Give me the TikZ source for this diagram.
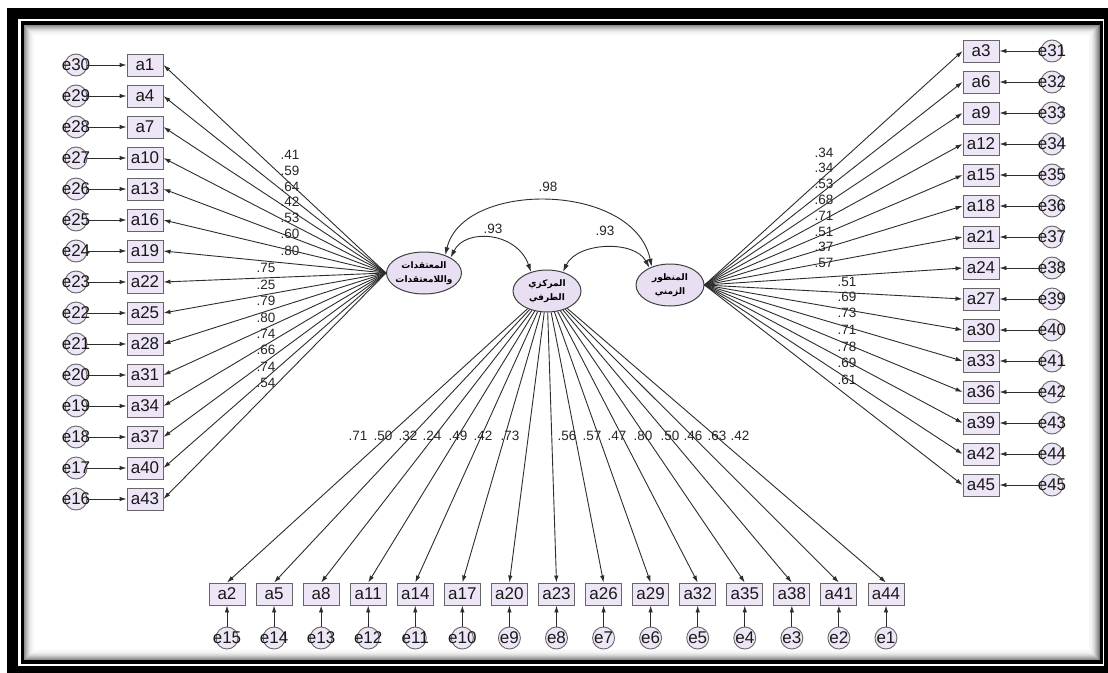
\documentclass[tikz,border=0pt]{standalone}
\usepackage{fontspec}
\setmainfont{Liberation Sans}
\newfontfamily\arabicfont[Script=Arabic]{DejaVu Sans}
\TeXXeTstate=1
\usetikzlibrary{arrows.meta, shapes.geometric}

\definecolor{boxfill}{RGB}{238,230,246}
\definecolor{latfill}{RGB}{232,224,242}
\definecolor{linegray}{RGB}{45,45,45}

\begin{document}
\begin{tikzpicture}[x=1pt, y=-1pt,
    obs/.style={draw=black!60, line width=0.9pt, fill=boxfill, minimum width=36pt, minimum height=22pt, inner sep=1pt, font=\fontsize{17}{17}\selectfont, text=black!90},
    err/.style={circle, draw=black!60, line width=0.9pt, fill=boxfill, minimum size=22pt, inner sep=0pt, font=\fontsize{17}{17}\selectfont, text=black!90},
    lat/.style={ellipse, draw=black!75, line width=1pt, fill=latfill, minimum width=68pt, minimum height=42pt, inner sep=-2pt, align=center, font=\arabicfont\bfseries\fontsize{9}{14}\selectfont},
    load/.style={draw=linegray, line width=0.9pt, -{Latex[length=7pt,width=4.5pt]}},
    cov/.style={draw=linegray, line width=0.9pt, {Latex[length=8pt,width=5pt]}-{Latex[length=8pt,width=5pt]}},
    lbl/.style={font=\fontsize{13.5}{13.5}\selectfont, text=black!85, inner sep=0pt},
]
    % Frame
    \useasboundingbox (0,0) rectangle (1108,672);
    \fill[white] (0,0) rectangle (1108,672);
    \draw[line width=11pt] (12.5,13.5) rectangle (1109.5,671.5);
    \foreach \k/\c in {1/55,2/45,3/37,4/30,5/23,6/17,7/12,8/8,9/5,10/3}
        \draw[black!\c, line width=1.2pt] (23+\k,24+\k) rectangle (1100-\k,661-\k);
    \draw[line width=3.5pt] (22.5,23) rectangle (1101.5,662);

    % Latent factors
    \node[lat] (F1) at (424,273) {\beginR المعتقدات\endR\\\beginR واللامعتقدات\endR};
    \node[lat] (F2) at (547,291) {\beginR المركزي\endR\\\beginR الطرفي\endR};
    \node[lat] (F3) at (670,285) {\beginR المنظور\endR\\\beginR الزمني\endR};

    % Covariances
    \draw[cov] (F1.40) .. controls +(18,-75) and +(-18,-85) .. (F3.135);
    \draw[cov] (F1.30) .. controls +(15,-30) and +(-14,-40) .. (F2.130);
    \draw[cov] (F2.50) .. controls +(14,-30) and +(-15,-28) .. (F3.140);
    \node[lbl] (c98) at (548,187) {.98};
    \node[lbl] (c93a) at (493,229) {.93};
    \node[lbl] (c93b) at (605,231) {.93};

    % Left indicators
    \foreach \a/\e [count=\i from 0] in {1/30,4/29,7/28,10/27,13/26,16/25,19/24,22/23,25/22,28/21,31/20,34/19,37/18,40/17,43/16}{
        \node[obs] (a\a) at (145,{65+31*\i}) {a\a};
        \node[err] (e\e) at (76,{65+31*\i}) {\makebox[0pt]{e\e}};
        \draw[load] (e\e) -- (a\a);
        \draw[load] (F1.west) -- (a\a.east);
    }

    % Right indicators
    \foreach \a/\e [count=\i from 0] in {3/31,6/32,9/33,12/34,15/35,18/36,21/37,24/38,27/39,30/40,33/41,36/42,39/43,42/44,45/45}{
        \node[obs] (a\a) at (981,{51+31*\i}) {a\a};
        \node[err] (e\e) at (1052,{51+31*\i}) {\makebox[0pt]{e\e}};
        \draw[load] (e\e) -- (a\a);
        \draw[load] (F3.east) -- (a\a.west);
    }

    % Bottom indicators
    \foreach \a/\e [count=\i from 0] in {2/15,5/14,8/13,11/12,14/11,17/10,20/9,23/8,26/7,29/6,32/5,35/4,38/3,41/2,44/1}{
        \node[obs] (a\a) at ({227+47.07*\i},594) {a\a};
        \node[err] (e\e) at ({227+47.07*\i},638) {\makebox[0pt]{e\e}};
        \draw[load] (e\e) -- (a\a);
        \draw[load] (F2) -- (a\a.north);
    }

    % Loadings
    \foreach \v/\y [count=\i] in {41/155,59/171,64/187,42/202,53/218,60/234,80/251}
        \node[lbl] (lL\i) at (290,\y) {.\v};
    \foreach \v/\y [count=\i from 8] in {75/268,25/285,79/301,80/318,74/334,66/350,74/367,54/383}
        \node[lbl] (lL\i) at (266,\y) {.\v};
    \foreach \v/\y [count=\i] in {34/153,34/168,53/184,68/200,71/216,51/232,37/247,57/263}
        \node[lbl] (lR\i) at (824,\y) {.\v};
    \foreach \v/\y [count=\i from 9] in {51/282,69/297,73/313,71/330,78/347,69/363,61/380}
        \node[lbl] (lR\i) at (847,\y) {.\v};
    \foreach \v/\x [count=\i] in {71/358,50/383,32/408,24/432,49/458,42/483,73/510,56/567,57/592,47/617,80/643,50/670,46/693,63/717,42/740}
        \node[lbl] (lB\i) at (\x,436) {.\v};
\end{tikzpicture}
\end{document}
